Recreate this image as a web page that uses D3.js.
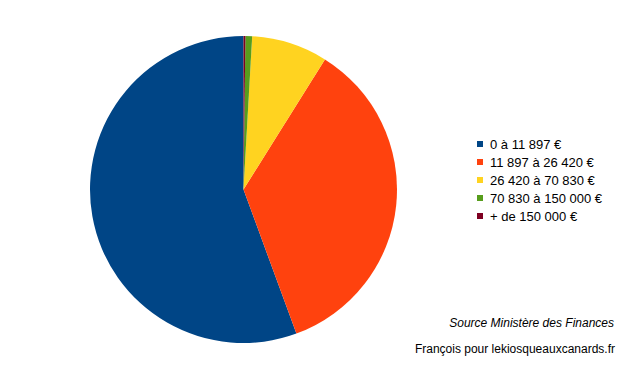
<!DOCTYPE html>
<html>
<head>
  <style>
    body {
      margin: 0;
      background: #fff;
    }
    text {
      font-family: "Liberation Sans", Arial, sans-serif;
      fill: #000;
    }
  </style>
</head>
<body>
  <script src="https://d3js.org/d3.v7.min.js"></script>
  <script>
    var width = 625, height = 374;

    // share of households per income bracket (%)
    var brackets = ["0 à 11 897 €", "11 897 à 26 420 €", "26 420 à 70 830 €", "70 830 à 150 000 €", "+ de 150 000 €"];
    var shares = [55.6, 35.5, 8.0, 0.7, 0.2];
    var colors = ["#004586", "#ff420e", "#ffd320", "#579d1c", "#7e0021"];

    var source = "Source Ministère des Finances";
    var credit = "François pour lekiosqueauxcanards.fr";

    var svg = d3.select("body").append("svg")
        .attr("width", width)
        .attr("height", height);

    var cx = 243.5, cy = 189.5, r = 153.5;

    // slices run counter-clockwise from 12 o'clock
    var pie = d3.pie()
        .sort(null)
        .startAngle(0)
        .endAngle(-2 * Math.PI);

    var arc = d3.arc()
        .innerRadius(0)
        .outerRadius(r);

    var color = d3.scaleOrdinal()
        .domain(brackets)
        .range(colors);

    svg.append("g")
        .attr("transform", "translate(" + cx + "," + cy + ")")
      .selectAll("path")
        .data(pie(shares))
      .enter().append("path")
        .attr("d", arc)
        .attr("fill", (d, i) => color(brackets[i]));

    var y = d3.scalePoint()
        .domain(brackets)
        .range([144, 216]);

    var legend = svg.selectAll("g.legend")
        .data(brackets)
      .enter().append("g")
        .attr("class", "legend")
        .attr("transform", d => "translate(477," + y(d) + ")");

    legend.append("rect")
        .attr("x", 0)
        .attr("y", -3)
        .attr("width", 6)
        .attr("height", 6)
        .attr("fill", d => color(d));

    legend.append("text")
        .attr("x", 13)
        .attr("dy", "0.36em")
        .style("font-size", "13px")
        .text(d => d);

    svg.append("text")
        .attr("x", 614)
        .attr("y", 327)
        .style("font-size", "12px")
        .style("font-style", "italic")
        .attr("text-anchor", "end")
        .text(source);

    svg.append("text")
        .attr("x", 615)
        .attr("y", 353)
        .style("font-size", "12px")
        .attr("text-anchor", "end")
        .text(credit);
  </script>
</body>
</html>
